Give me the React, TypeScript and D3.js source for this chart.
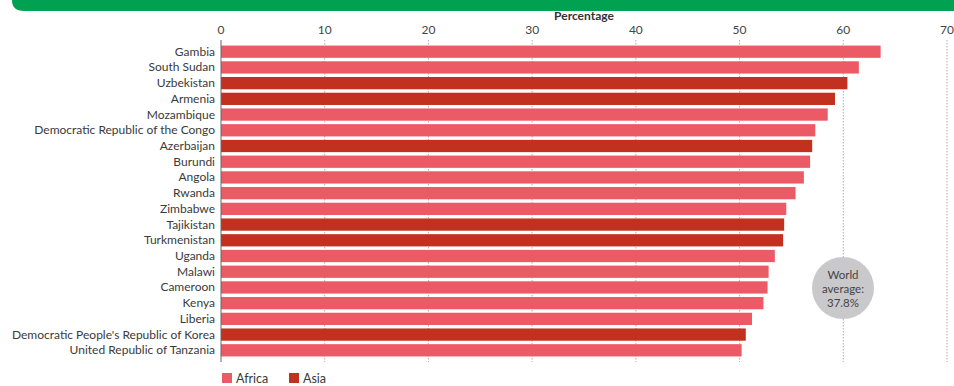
import React from "react";
import * as d3 from "d3";

const countries = [
  "Gambia", "South Sudan", "Uzbekistan", "Armenia", "Mozambique",
  "Democratic Republic of the Congo", "Azerbaijan", "Burundi", "Angola", "Rwanda",
  "Zimbabwe", "Tajikistan", "Turkmenistan", "Uganda", "Malawi",
  "Cameroon", "Kenya", "Liberia", "Democratic People's Republic of Korea", "United Republic of Tanzania",
];
const values = [63.6, 61.5, 60.4, 59.2, 58.5, 57.3, 57.0, 56.8, 56.2, 55.4, 54.5, 54.3, 54.2, 53.4, 52.8, 52.7, 52.3, 51.2, 50.6, 50.2];
const regions = ["Africa", "Africa", "Asia", "Asia", "Africa", "Africa", "Asia", "Africa", "Africa", "Africa", "Africa", "Asia", "Asia", "Africa", "Africa", "Africa", "Africa", "Africa", "Asia", "Africa"];
const ticks = [0, 10, 20, 30, 40, 50, 60, 70];
const legendItems = ["Africa", "Asia"];
const worldAverage = 37.8;

const colors: Record<string, string> = { Africa: "#ec5a66", Asia: "#c2311f" };
const FONT = "Lato, 'Open Sans', sans-serif";

export default function App() {
  const W = 954, H = 386;
  const x = d3.scaleLinear().domain([0, 70]).range([221, 947]);
  const y = d3.scaleBand().domain(countries).range([44, 358]).paddingInner(0.22).paddingOuter(0.1);
  const bh = y.bandwidth();
  return (
    <svg width={W} height={H} style={{ position: "absolute", left: 0, top: 0, background: "#fff" }}>
      <path d={`M12,0 H954 V11 H24 Q12,11 12,0 Z`} fill="#00a150" />
      <text x={584} y={20} textAnchor="middle" fontFamily={FONT} fontWeight={700} fontSize={12} fill="#333">Percentage</text>
      {ticks.map((t) => (
        <g key={t}>
          <text x={x(t)} y={34} textAnchor="middle" fontFamily={FONT} fontSize={12} fill="#444">{t}</text>
          {t > 0 && (
            <line x1={x(t)} x2={x(t)} y1={40} y2={362} stroke="#9a9a9a" strokeWidth={0.8} strokeDasharray="1.5,1.5" />
          )}
        </g>
      ))}
      {countries.map((c, i) => (
        <g key={c}>
          <rect x={x(0)} y={y(c)!} width={x(values[i]) - x(0)} height={bh} fill={colors[regions[i]]} />
          <text x={215} y={y(c)! + bh / 2 + 4} textAnchor="end" fontFamily={FONT} fontSize={12} fill="#3a3a3a">{c}</text>
        </g>
      ))}
      <line x1={x(0)} x2={x(0)} y1={40} y2={362} stroke="#666" strokeWidth={1} />
      <circle cx={843} cy={288} r={31} fill="#c9c9cb" />
      <text x={843} y={279} textAnchor="middle" fontFamily={FONT} fontSize={11.5} fill="#444">World</text>
      <text x={843} y={293} textAnchor="middle" fontFamily={FONT} fontSize={11.5} fill="#444">average:</text>
      <text x={843} y={307} textAnchor="middle" fontFamily={FONT} fontSize={11.5} fill="#444">{`${worldAverage}%`}</text>
      {legendItems.map((l, i) => (
        <g key={l} transform={`translate(${222 + i * 67},373)`}>
          <rect x={0} y={0} width={10} height={10} fill={colors[l]} />
          <text x={14} y={10} fontFamily={FONT} fontSize={12.5} fill="#3a3a3a">{l}</text>
        </g>
      ))}
    </svg>
  );
}
